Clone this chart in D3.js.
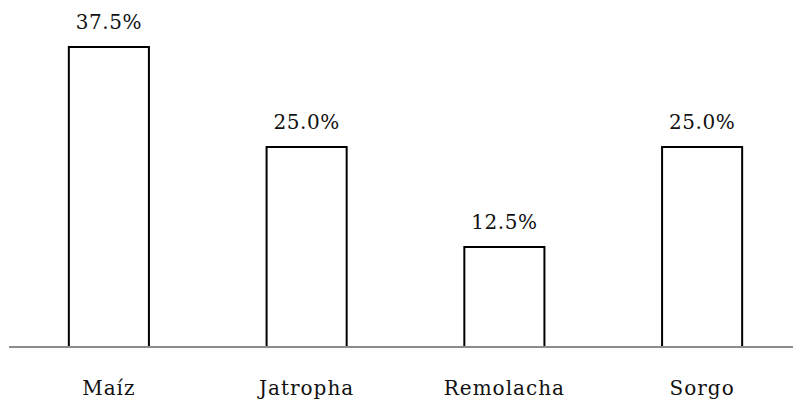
<!DOCTYPE html>
<html>
<head>
<meta charset="utf-8">
<script src="https://cdn.jsdelivr.net/npm/d3@7"></script>
<style>
  html, body { margin: 0; padding: 0; background: #fff; }
  svg { display: block; }
</style>
</head>
<body>
<svg id="chart" width="793" height="405"></svg>
<script>
// Share of each crop
const categories = ["Maíz", "Jatropha", "Remolacha", "Sorgo"];
const values = [0.375, 0.25, 0.125, 0.25];

const serif = "'DejaVu Serif', 'Noto Serif', serif";

const svg = d3.select("#chart");

const x = d3.scaleBand()
  .domain(categories)
  .range([10, 801])
  .paddingInner(0.595)
  .paddingOuter(0.2975);

const y = d3.scaleLinear()
  .domain([0, 0.375])
  .range([347, 47]);

const fmt = d3.format(".1%");

// Bars: white fill with a black outline
svg.append("g")
  .selectAll("rect")
  .data(values)
  .join("rect")
  .attr("x", (d, i) => x(categories[i]))
  .attr("y", d => y(d))
  .attr("width", x.bandwidth())
  .attr("height", d => y(0) - y(d))
  .attr("fill", "#fff")
  .attr("stroke", "#000")
  .attr("stroke-width", 2);

// Category axis line
svg.append("line")
  .attr("x1", 9)
  .attr("x2", 793)
  .attr("y1", y(0))
  .attr("y2", y(0))
  .attr("stroke", "#8c8c8c")
  .attr("stroke-width", 2);

// Value labels above bars
svg.append("g")
  .attr("font-family", serif)
  .attr("fill", "#111")
  .selectAll("text")
  .data(values)
  .join("text")
  .attr("x", (d, i) => x(categories[i]) + x.bandwidth() / 2)
  .attr("y", d => y(d) - 18)
  .attr("text-anchor", "middle")
  .attr("font-size", 20)
  .attr("letter-spacing", 0.5)
  .text(d => fmt(d));

// Category labels
svg.append("g")
  .attr("font-family", serif)
  .attr("fill", "#111")
  .selectAll("text")
  .data(categories)
  .join("text")
  .attr("x", d => x(d) + x.bandwidth() / 2)
  .attr("y", 395)
  .attr("text-anchor", "middle")
  .attr("font-size", 20)
  .attr("letter-spacing", 1)
  .text(d => d);
</script>
</body>
</html>
